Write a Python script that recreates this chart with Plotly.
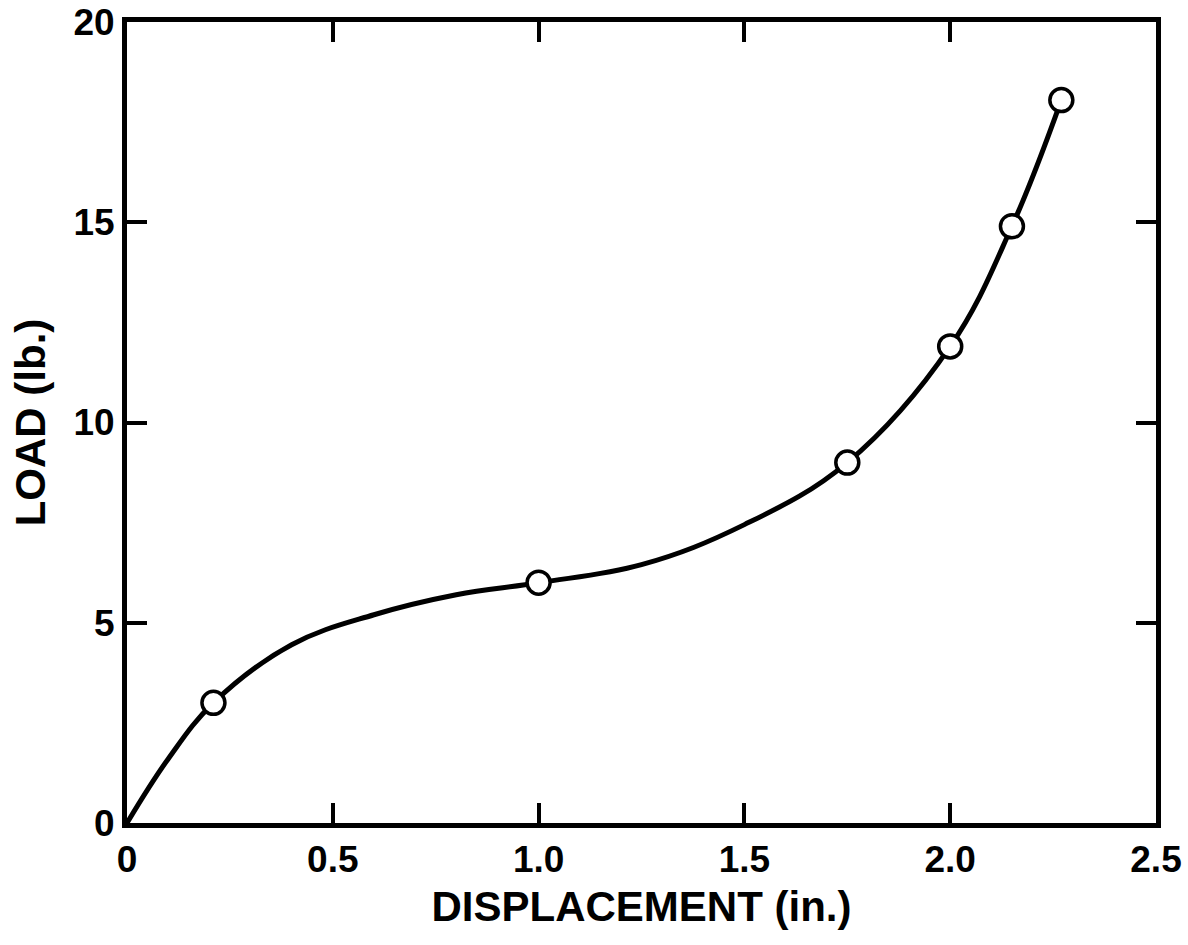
import plotly.graph_objects as go

# Measured data points (markers)
disp_pts = [0.21, 1.0, 1.75, 2.0, 2.15, 2.27]
load_pts = [3.0, 6.0, 9.0, 11.9, 14.9, 18.05]

# Curve
curve_x = [0.0, 0.1, 0.21, 0.4, 0.6, 0.8, 1.0, 1.25, 1.5, 1.75, 2.0, 2.15, 2.27]
curve_y = [0.0, 1.6, 3.0, 4.45, 5.2, 5.7, 6.0, 6.45, 7.45, 9.0, 11.9, 14.9, 18.05]

x_ticks = [0, 0.5, 1.0, 1.5, 2.0, 2.5]
x_ticktext = ["0", "0.5", "1.0", "1.5", "2.0", "2.5"]
y_ticks = [0, 5, 10, 15, 20]
y_ticktext = ["0", "5", "10", "15", "20"]

FONT = "Liberation Sans, Arial, Helvetica, sans-serif"

fig = go.Figure()
fig.add_trace(go.Scatter(
    x=curve_x, y=curve_y, mode="lines",
    line=dict(color="black", width=5, shape="spline", smoothing=1.1),
    hoverinfo="skip", showlegend=False,
))
fig.add_trace(go.Scatter(
    x=disp_pts, y=load_pts, mode="markers",
    marker=dict(size=23, color="white", line=dict(color="black", width=3.5)),
    showlegend=False,
))

axis_common = dict(
    showgrid=False, zeroline=False, automargin=False,
    showline=True, linecolor="black", linewidth=5, mirror="ticks",
    ticks="inside", ticklen=20, tickwidth=3.5, tickcolor="black",
    ticklabeloverflow="allow",
    tickfont=dict(family=FONT, size=37, color="black", weight="bold"),
)

fig.update_xaxes(
    range=[0, 2.5], tickvals=x_ticks, ticktext=x_ticktext,
    title=dict(text="<b>DISPLACEMENT (in.)</b>", font=dict(family=FONT, size=42, color="black"), standoff=14),
    **axis_common,
)
fig.update_yaxes(
    range=[0, 20], tickvals=y_ticks, ticktext=y_ticktext,
    title=dict(text="<b>LOAD (lb.)</b>", font=dict(family=FONT, size=42, color="black"), standoff=16),
    **axis_common,
)

fig.update_layout(
    width=1188, height=945,
    margin=dict(l=127, r=32, t=22, b=122),
    plot_bgcolor="white", paper_bgcolor="white",
)

fig.write_html("out.html", config={"displayModeBar": False},
               post_script="document.body.style.margin='0px';")
